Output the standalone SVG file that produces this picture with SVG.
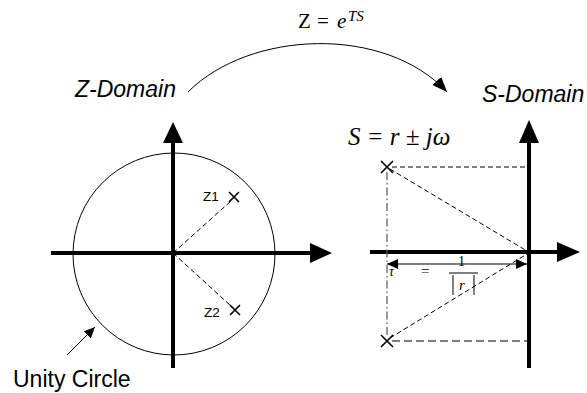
<svg xmlns="http://www.w3.org/2000/svg" width="587" height="393" viewBox="0 0 587 393">
<defs>
<style>
.axis{stroke:#000;stroke-width:4;fill:none}
.thin{stroke:#000;stroke-width:1;fill:none}
.dash{stroke:#000;stroke-width:1;fill:none;stroke-dasharray:5,3}
.dashd{stroke:#555;stroke-width:1.3;fill:none;stroke-dasharray:8,4}
.dashdot{stroke:#555;stroke-width:1.2;fill:none;stroke-dasharray:8,3,1.5,3}
.cross{stroke:#000;stroke-width:1.6;fill:none}
.head{fill:#000}
</style>
<marker id="arr" markerWidth="16" markerHeight="12" refX="15" refY="6" orient="auto" markerUnits="userSpaceOnUse">
<path d="M0,0 L15,6 L0,12 Z" fill="#000"/>
</marker>
<marker id="sm" markerWidth="12" markerHeight="10" refX="11" refY="5" orient="auto" markerUnits="userSpaceOnUse">
<path d="M0,0 L11,5 L0,10 Z" fill="#000"/>
</marker>
<marker id="smr" markerWidth="12" markerHeight="10" refX="1" refY="5" orient="auto" markerUnits="userSpaceOnUse">
<path d="M12,0 L1,5 L12,10 Z" fill="#000"/>
</marker>
</defs>
<rect width="587" height="393" fill="#fff"/>

<g id="connectors">
<path class="thin" d="M188,92 C250,30 385,25 447,92" marker-end="url(#arr)"/>
<line class="thin" x1="67" y1="355" x2="95" y2="327" stroke-width="1.5" marker-end="url(#sm)"/>
</g>

<g id="mapping-label" font-family="'Liberation Serif','Times New Roman',serif" fill="#000">
<text x="298" y="28" font-size="21">Z</text>
<text x="317" y="28" font-size="21">=</text>
<text x="337" y="28" font-size="21" font-style="italic">e</text>
<text x="348" y="21" font-size="15" font-style="italic">TS</text>
</g>

<g id="z-domain">
<text x="75" y="97" font-size="23" font-style="italic" font-family="'Liberation Sans',Arial,sans-serif">Z-Domain</text>
<circle class="thin" cx="174" cy="254" r="101"/>
<line class="axis" x1="173" y1="368" x2="173" y2="140"/>
<path class="head" d="M173,122 L163,143 L183,143 Z"/>
<line class="axis" x1="51" y1="253" x2="312" y2="253"/>
<path class="head" d="M332,253 L310,243 L310,263 Z"/>
<line class="dash" x1="173" y1="253" x2="231" y2="201"/>
<line class="dash" x1="173" y1="253" x2="231" y2="306"/>
<path class="cross" d="M229,192 L239,202 M239,192 L229,202"/>
<path class="cross" d="M230,305 L240,315 M240,305 L230,315"/>
<text x="203" y="201" font-size="13.5" font-family="'Liberation Sans',Arial,sans-serif">Z1</text>
<text x="204" y="317" font-size="13.5" font-family="'Liberation Sans',Arial,sans-serif">Z2</text>
</g>

<g id="unity-circle">
<text x="13" y="387" font-size="23" font-family="'Liberation Sans',Arial,sans-serif">Unity Circle</text>
</g>

<g id="s-domain">
<text x="482" y="102" font-size="23" font-style="italic" font-family="'Liberation Sans',Arial,sans-serif">S-Domain</text>
<text x="348" y="145" font-size="25" font-style="italic" font-family="'Liberation Serif','Times New Roman',serif">S = r ± jω</text>
<line class="axis" x1="529" y1="368" x2="529" y2="140"/>
<path class="head" d="M529,120 L519,143 L539,143 Z"/>
<line class="axis" x1="370" y1="252" x2="560" y2="252"/>
<path class="head" d="M580,252 L557,242 L557,262 Z"/>
<line class="dash" x1="392" y1="167" x2="527" y2="167"/>
<line class="dashd" x1="392" y1="341" x2="527" y2="341"/>
<line class="dash" x1="390" y1="169" x2="527" y2="251"/>
<line class="dash" x1="390" y1="338" x2="527" y2="254"/>
<line class="dashdot" x1="387" y1="172" x2="387" y2="336"/>
<path class="cross" d="M381,161 L393,173 M393,161 L381,173"/>
<path class="cross" d="M381,335 L393,347 M393,335 L381,347"/>
<line class="thin" x1="387" y1="264" x2="527" y2="264" marker-start="url(#smr)" marker-end="url(#sm)"/>
<g font-family="'Liberation Serif','Times New Roman',serif" fill="#000">
<text x="389" y="276" font-size="14" font-style="italic">τ</text>
<text x="421" y="276" font-size="15">=</text>
<text x="458" y="266" font-size="14">1</text>
<text x="459" y="290" font-size="15" font-style="italic">r</text>
</g>
<line class="thin" x1="449" y1="273" x2="478" y2="273" stroke-width="1.3"/>
<line class="thin" x1="453" y1="275" x2="453" y2="295" stroke-width="1.3"/>
<line class="thin" x1="474" y1="275" x2="474" y2="295" stroke-width="1.3"/>
</g>
</svg>
